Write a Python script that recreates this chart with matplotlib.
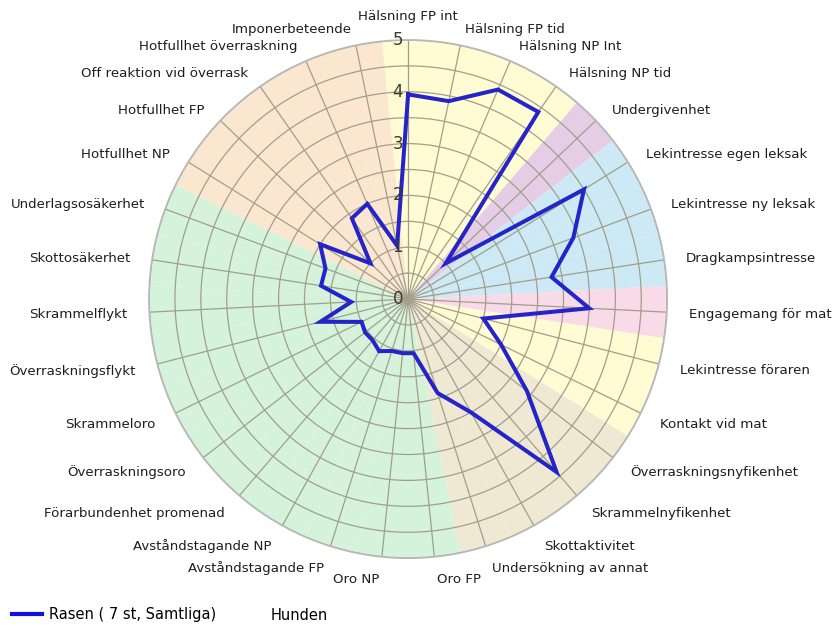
import numpy as np
import matplotlib.pyplot as plt

# categories clockwise from the top
categories = ['Hälsning FP int', 'Hälsning FP tid', 'Hälsning NP Int', 'Hälsning NP tid',
              'Undergivenhet', 'Lekintresse egen leksak', 'Lekintresse ny leksak',
              'Dragkampsintresse', 'Engagemang för mat', 'Lekintresse föraren',
              'Kontakt vid mat', 'Överraskningsnyfikenhet', 'Skrammelnyfikenhet',
              'Skottaktivitet', 'Undersökning av annat', 'Oro FP', 'Oro NP',
              'Avståndstagande FP', 'Avståndstagande NP', 'Förarbundenhet promenad',
              'Överraskningsoro', 'Skrammeloro', 'Överraskningsflykt', 'Skrammelflykt',
              'Skottosäkerhet', 'Underlagsosäkerhet', 'Hotfullhet NP', 'Hotfullhet FP',
              'Off reaktion vid överrask', 'Hotfullhet överraskning', 'Imponerbeteende']

rasen = [3.95, 3.9, 4.4, 4.4, 1.0, 4.0, 3.4, 2.8, 3.5, 1.5, 2.0, 2.9, 4.4, 2.5, 1.9,
         1.05, 1.05, 1.05, 1.15, 1.05, 1.05, 1.0, 1.75, 1.1, 1.7, 1.7, 2.0, 1.0, 1.9,
         2.0, 1.05]

ring_values = [0, 1, 2, 3, 4, 5]
legend_labels = ['Rasen ( 7 st, Samtliga)', 'Hunden']

# background colour of each category sector
band_colors = (['#FFFBD3'] * 4 + ['#E6CDE6'] + ['#CCE9F5'] * 3 + ['#F9DAE8']
               + ['#FFFBD3'] * 2 + ['#EFE8D3'] * 4 + ['#D5F2DB'] * 11 + ['#FBE7D0'] * 5)

N = len(categories)
step = 2 * np.pi / N
theta = np.arange(N) * step

fig = plt.figure(figsize=(8.32, 6.25), dpi=100)
ax = fig.add_axes([0.179, 0.107, 0.623, 0.829], projection='polar')
ax.set_theta_zero_location('N')
ax.set_theta_direction(-1)

ax.bar(theta, 5, width=step, bottom=0, color=band_colors, edgecolor='none', zorder=0)

line, = ax.plot(np.append(theta, theta[0]), rasen + [rasen[0]], color='#2424C8',
                lw=2.9, zorder=5, solid_joinstyle='miter')
hund, = ax.plot([], [], color='none')

ax.set_ylim(0, 5)
ax.set_yticks(np.arange(0.5, 5.01, 0.5))
ax.set_yticklabels([])
ax.set_xticks(theta)
ax.set_xticklabels([])
ax.tick_params(length=0)
ax.grid(color='#A19F8C', lw=0.9)
ax.spines['polar'].set_color('#B8B8B8')
ax.spines['polar'].set_linewidth(1.3)

for v in ring_values:
    ax.annotate(str(v), xy=(0, v), xytext=(-3.6, 0), textcoords='offset points',
                ha='right', va='center', fontsize=12, color='#3A3A30', zorder=6)

for i, (t, lab) in enumerate(zip(theta, categories)):
    if i == 0:
        ha, dy = 'center', 1.5
    else:
        ha = 'left' if t < np.pi else 'right'
        dy = -(1.5 + 4.5 * max(np.cos(t), 0))
    ax.annotate(lab, xy=(t, 5.42), xytext=(0, dy * 0.72), textcoords='offset points',
                ha=ha, va='center', fontsize=9.6, color='#1E1E1E', annotation_clip=False)

fig.legend([line, hund], legend_labels, loc='center left',
           bbox_to_anchor=(12 / 832, 10 / 625), ncol=2, frameon=False,
           fontsize=10.5, handlelength=2.05, handletextpad=0.5, columnspacing=1.2,
           borderpad=0, borderaxespad=0)
line_h = fig.legends[0].get_lines()[0]
line_h.set_color('#1010E0')
line_h.set_linewidth(3)

fig.savefig('out.png', dpi=100)
